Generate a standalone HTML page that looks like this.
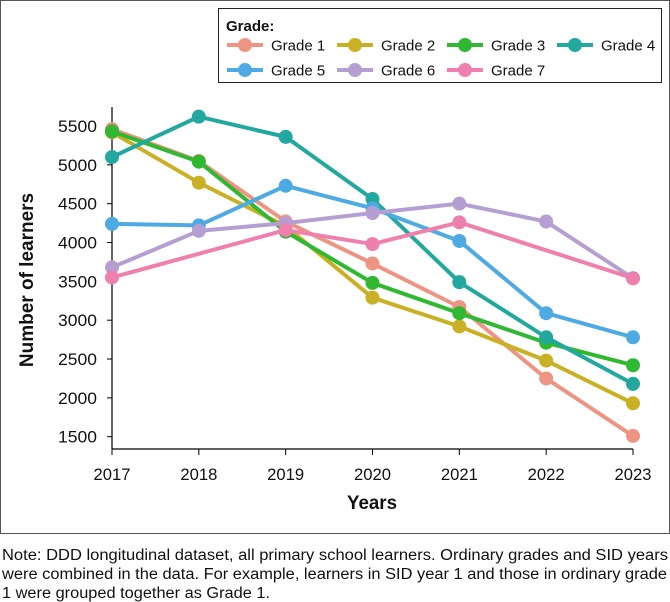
<!DOCTYPE html>
<html><head><meta charset="utf-8"><style>
body{margin:0;background:#fff;font-family:"Liberation Sans","DejaVu Sans",sans-serif;}
#wrap{position:relative;width:670px;height:602px;overflow:hidden}
</style></head><body>
<div id="wrap">
<svg id="chart" width="670" height="602" style="position:absolute;left:0;top:0"></svg>
</div>
<script>
const years=[2017,2018,2019,2020,2021,2022,2023];
const yTicks=[1500,2000,2500,3000,3500,4000,4500,5000,5500];
const seriesNames=["Grade 1","Grade 2","Grade 3","Grade 4","Grade 5","Grade 6","Grade 7"];
const g1=[5460,5050,4270,3730,3170,2250,1510];
const g2=[5420,4770,4210,3290,2920,2480,1930];
const g3=[5430,5040,4140,3480,3090,2710,2420];
const g4=[5100,5620,5360,4560,3490,2780,2180];
const g5=[4240,4220,4730,4440,4020,3090,2780];
const g6=[3680,4150,4250,4380,4500,4270,3540];
const g7=[3550,null,4160,3980,4260,null,3540];
const seriesData=[g1,g2,g3,g4,g5,g6,g7];
const noteLines=["Note: DDD longitudinal dataset, all primary school learners. Ordinary grades and SID years","were combined in the data. For example, learners in SID year 1 and those in ordinary grade","1 were grouped together as Grade 1."];
const colors=["#ee9482","#c9b024","#30b833","#22a89e","#4eaae3","#b59fd2","#ef80ad"];
const NS="http://www.w3.org/2000/svg";
const svg=document.getElementById('chart');
function mk(t,a,p){const e=document.createElementNS(NS,t);for(const k in a)e.setAttribute(k,a[k]);(p||svg).appendChild(e);return e;}
const x0=112,x1=633;
function xs(i){return x0+(x1-x0)*(years[i]-years[0])/(years[years.length-1]-years[0]);}
function ys(v){return 436.7-(v-1500)*(436.7-126)/4000;}
let e=mk('rect',{x:0.5,y:0.5,width:669,height:533,fill:'none',stroke:'#555','stroke-width':1});

e=mk('line',{x1:x0,y1:107,x2:x0,y2:449,stroke:'#000','stroke-width':1.2});

e=mk('line',{x1:x0,y1:449,x2:x1,y2:449,stroke:'#000','stroke-width':1.2});

yTicks.forEach(v=>{
  mk('line',{x1:x0-5,y1:ys(v),x2:x0,y2:ys(v),stroke:'#000'});
  const t=mk('text',{x:97,y:ys(v)+6,'text-anchor':'end','font-size':17,fill:'#111',textLength:39,lengthAdjust:'spacingAndGlyphs'});
  t.textContent=v;
  
});
years.forEach((y,i)=>{
  mk('line',{x1:xs(i),y1:449,x2:xs(i),y2:455,stroke:'#000'});
  const t=mk('text',{x:xs(i),y:480,'text-anchor':'middle','font-size':17,fill:'#111',textLength:37,lengthAdjust:'spacingAndGlyphs'});
  t.textContent=y;
  
});
e=mk('text',{x:372,y:509,'text-anchor':'middle','font-size':19,'font-weight':'bold',fill:'#111',textLength:50,lengthAdjust:'spacingAndGlyphs'});
e.textContent='Years';
e=mk('text',{x:0,y:0,'text-anchor':'middle','font-size':19,'font-weight':'bold',fill:'#111',transform:'translate(33,280) rotate(-90)'});
e.textContent='Number of learners';
seriesData.forEach((d,s)=>{
  const g=mk('g',{});
  
  const pts=[];d.forEach((v,i)=>{if(v!==null)pts.push(xs(i)+','+ys(v));});
  mk('polyline',{points:pts.join(' '),fill:'none',stroke:colors[s],'stroke-width':4,'stroke-linejoin':'round'},g);
  d.forEach((v,i)=>{if(v===null)return;
    const c=mk('circle',{cx:xs(i),cy:ys(v),r:7,fill:colors[s]},g);
    
    
  });
});
const lg=mk('g',{});

mk('rect',{x:218.5,y:8.5,width:443,height:74,fill:'#fff',stroke:'#222','stroke-width':1},lg);
e=mk('text',{x:226,y:31,'font-size':15,'font-weight':'bold',fill:'#111'},lg);
e.textContent='Grade:';
seriesNames.forEach((n,s)=>{
  const col=s%4,row=Math.floor(s/4);
  const lx=227+col*110,ly=45+row*25;
  const it=mk('g',{},lg);
  
  mk('line',{x1:lx,y1:ly,x2:lx+36,y2:ly,stroke:colors[s],'stroke-width':4},it);
  mk('circle',{cx:lx+18,cy:ly,r:7,fill:colors[s]},it);
  const t=mk('text',{x:lx+44,y:ly+5.5,'font-size':15,fill:'#111'},it);t.textContent=n;
});
const lens=[666,665,268];
noteLines.forEach((l,i)=>{
  const t=mk('text',{x:2,y:560+i*19,'font-size':15.5,fill:'#111',textLength:lens[i],lengthAdjust:'spacingAndGlyphs'});
  t.textContent=l;
  
});
</script>
</body></html>
